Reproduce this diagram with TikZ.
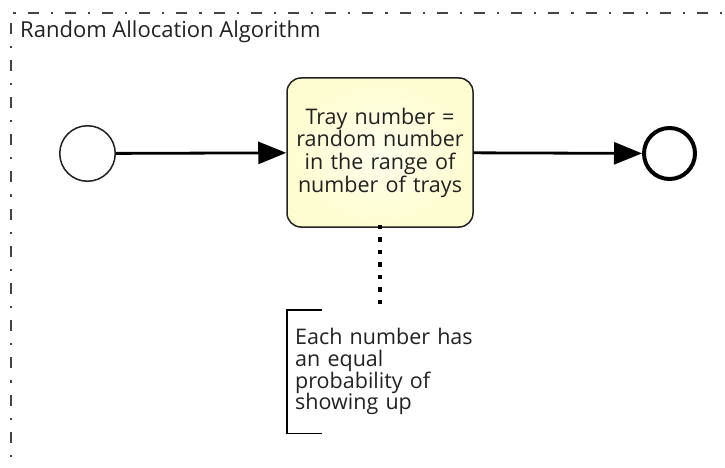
\documentclass[tikz,border=0pt]{standalone}
\usepackage{fontspec}
\setmainfont{Open Sans}
\usetikzlibrary{arrows.meta}

\definecolor{inkdark}{HTML}{222222}
\definecolor{framegray}{HTML}{444444}
\definecolor{taskedge}{HTML}{FEFDD0}
\definecolor{taskmid}{HTML}{FFFFEE}

\tikzset{
  poolframe/.style={draw=framegray, line width=2.2pt,
    dash pattern=on 11pt off 12pt on 2.2pt off 12pt},
  startev/.style={circle, draw=inkdark, line width=1.5pt, fill=white,
    minimum size=55.5pt, inner sep=0pt},
  endev/.style={circle, draw=black, line width=4pt, fill=white,
    minimum size=51pt, inner sep=0pt},
  taskbox/.style={rectangle, rounded corners=14pt, draw=inkdark, line width=1.5pt,
    inner color=taskmid, outer color=taskedge,
    minimum width=186pt, minimum height=149pt, inner sep=2pt,
    text width=180pt, align=center, text=inkdark,
    font=\fontsize{21.5pt}{22.7pt}\selectfont},
  notebox/.style={rectangle, anchor=north west, minimum height=123pt,
    inner sep=0pt, text width=200pt, align=left, text=inkdark,
    font=\fontsize{21.5pt}{21.7pt}\selectfont},
  seqflow/.style={draw=black, line width=2.8pt,
    -{Triangle[length=28pt, width=22pt]}},
  assocline/.style={draw=black, line width=3.2pt, dash pattern=on 4.5pt off 8pt},
  bracket/.style={draw=black, line width=1.5pt},
  pooltitle/.style={anchor=base west, inner sep=0pt, text=inkdark,
    font=\fontsize{22pt}{22pt}\selectfont}
}

\begin{document}
\begin{tikzpicture}[x=1pt, y=-1pt]
  \useasboundingbox (0,0) rectangle (725,468);
  \clip (0,0) rectangle (725,468);

  % pool border (open towards the right and bottom)
  \draw[poolframe] (11,480) -- (11,13) -- (740,13);
  \node[pooltitle] (title) at (20,38) {Random Allocation Algorithm};

  % events and task
  \node[startev] (start) at (87.5,153.5) {};
  \node[taskbox] (task) at (380,152.5)
    {Tray number = random number in the range of number of trays};
  \node[endev] (finish) at (669.5,153.5) {};

  % text annotation
  \node[notebox] (note) at (287,310) {\hspace*{8pt}\parbox[c]{190pt}{\raggedright
    Each number has\\an equal\\probability of\\showing up}};
  \draw[bracket] ([xshift=35pt]note.north west) -- (note.north west)
    -- (note.south west) -- ([xshift=35pt]note.south west);

  % flows
  \draw[seqflow] (start) -- (task);
  \draw[seqflow] (task) -- (finish);
  \draw[assocline] ([yshift=3pt]task.south) -- (task.south |- note.north);
\end{tikzpicture}
\end{document}
